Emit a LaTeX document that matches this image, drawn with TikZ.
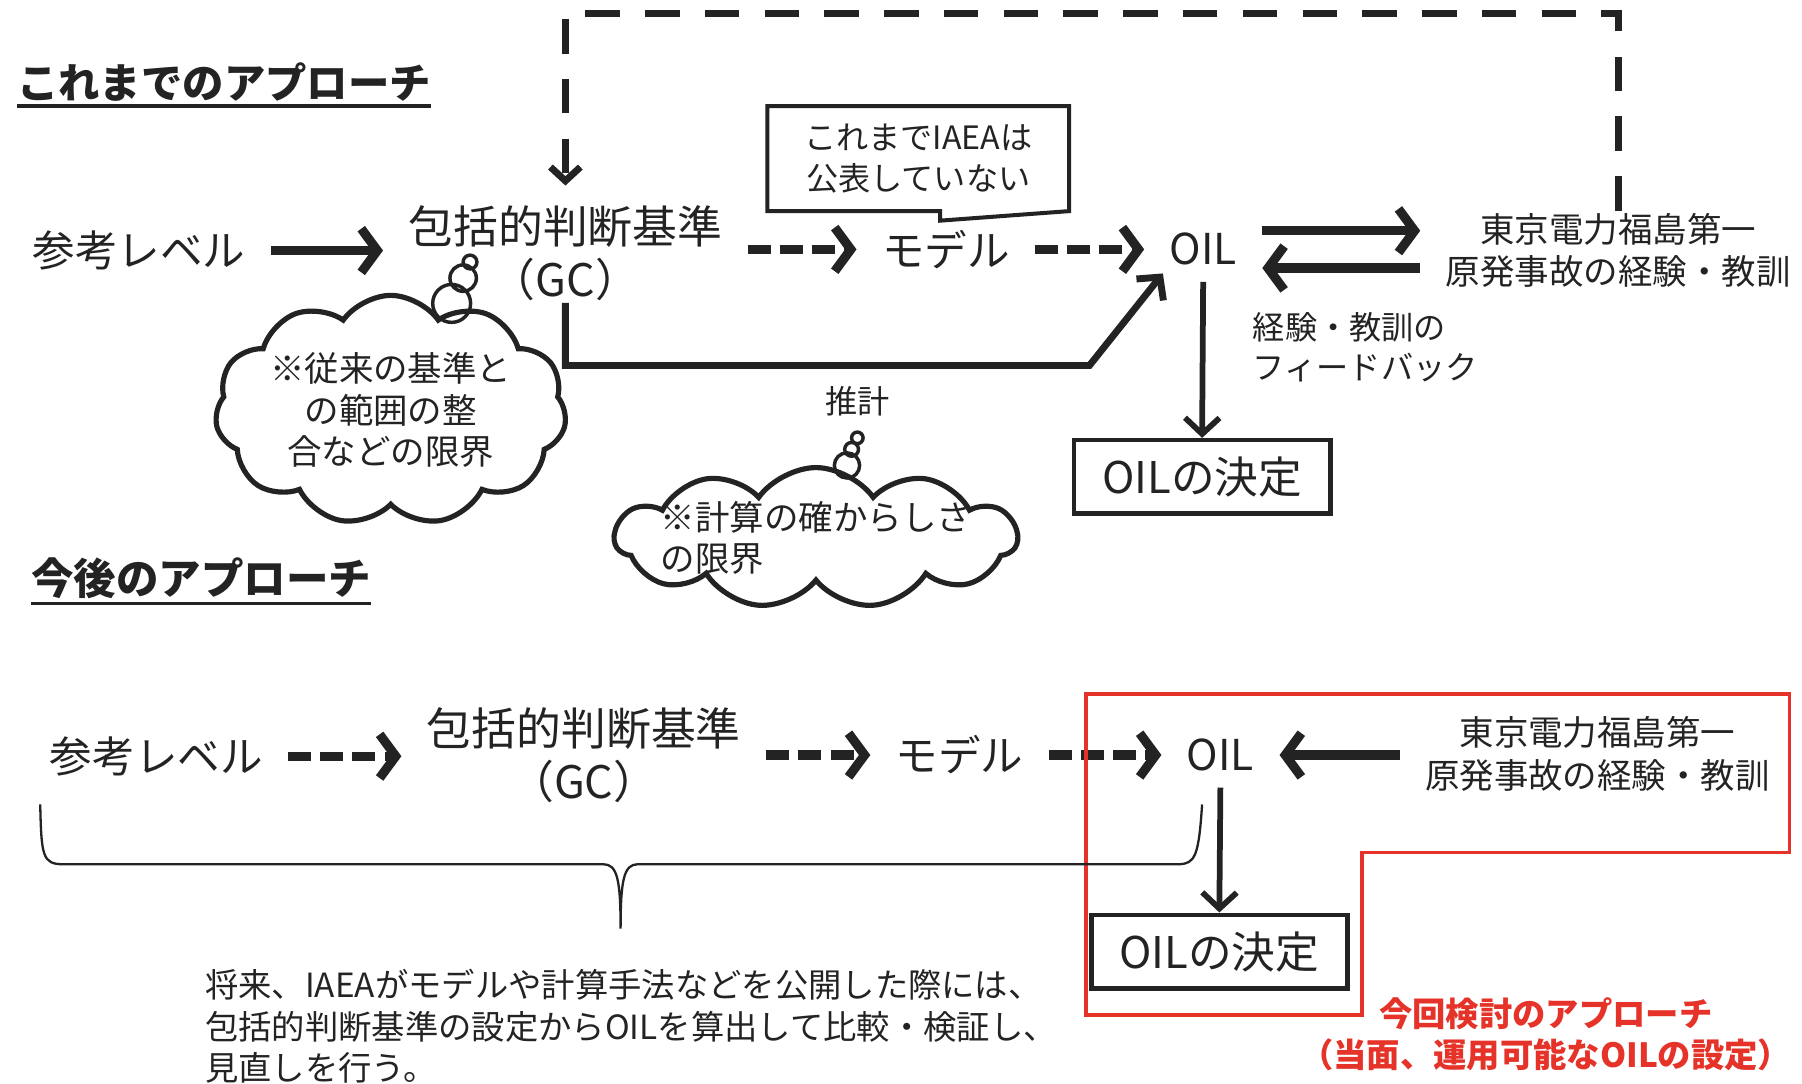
\documentclass[tikz,border=0pt]{standalone}
\usepackage{fontspec}
\setmainfont{Noto Sans CJK JP}
\usepackage{xcolor}
\usetikzlibrary{arrows.meta}
\usetikzlibrary{shapes.symbols}
\definecolor{ink}{HTML}{232323}
\definecolor{redmark}{HTML}{E63329}

\tikzset{
  lbl/.style={text=ink, inner sep=2pt, align=center, font=\fontsize{37}{46}\selectfont},
  smalllbl/.style={lbl, font=\fontsize{28}{35}\selectfont},
  heading/.style={text=ink, inner xsep=0pt, inner ysep=4pt, font=\bfseries\fontsize{36}{44}\selectfont},
  decbox/.style={draw=ink, line width=4pt, text=ink, font=\fontsize{38}{46}\selectfont, minimum width=223pt, minimum height=64pt},
  bigarrow/.style={draw=ink, line width=8pt, -{Straight Barb[length=14pt,width=38pt]}, shorten <=20pt, shorten >=20pt},
  dasharrow/.style={bigarrow, dash pattern=on 20pt off 8pt},
  downarrow/.style={draw=ink, line width=5pt, -{Straight Barb[length=14pt,width=30pt]}, shorten <=12pt},
  estline/.style={draw=ink, line width=6pt, -{Straight Barb[length=14pt,width=30pt]}, shorten >=6pt},
  loopline/.style={draw=ink, line width=6pt, dash pattern=on 30pt off 22pt, -{Straight Barb[length=12pt,width=26pt]}, shorten >=15pt},
  thought/.style={cloud, draw=ink, line width=4.5pt, text=ink, align=center, cloud puffs=11, cloud puff arc=110, cloud ignores aspect, inner sep=0pt, font=\fontsize{30}{36}\selectfont},
  bubble/.style={draw=ink, line width=3pt},
  speech/.style={text=ink, align=center, font=\fontsize{28}{35}\selectfont, minimum width=262pt, minimum height=91pt},
  speechline/.style={draw=ink, line width=3.5pt, line join=miter}
}

\begin{document}
\begin{tikzpicture}[x=1pt, y=-1pt]
	\useasboundingbox (0,0) rectangle (1568,943);
	\node[heading] (head1) at (195,71) {これまでのアプローチ};
	\draw[ink, line width=3pt] (head1.south west) -- (head1.south east);
	\node[heading, font=\bfseries\fontsize{37}{44}\selectfont] (head2) at (175,503) {今後のアプローチ};
	\draw[ink, line width=3pt] (head2.south west) -- (head2.south east);

	\node[lbl] (ref1) at (121,218) {参考レベル};
	\node[lbl, font=\fontsize{39}{46}\selectfont] (gc1) at (492,220) {包括的判断基準\\（GC）};
	\node[lbl] (model1) at (823,217) {モデル};
	\node[lbl] (oil1) at (1047,217) {OIL};
	\node[lbl, font=\fontsize{30}{37}\selectfont] (tepco1) at (1408,218) {東京電力福島第一\\原発事故の経験・教訓};
	\node[decbox] (dec1) at (1046,415) {OILの決定};
	\node[smalllbl, anchor=west, align=left] (fb) at (1088,302) {経験・教訓の\\フィードバック};
	\node[smalllbl] (est) at (746,349) {推計};

	\node[speech] (iaea) at (799,138) {これまでIAEAは\\公表していない};
	\coordinate (iaeatip) at (818,192);
	\draw[speechline] (iaea.south east) -- (iaea.north east) -- (iaea.north west) -- (iaea.south west) -- (iaea.south west -| iaeatip) -- (iaeatip) -- cycle;

	\node[thought, minimum width=290pt, minimum height=200pt] (limit1) at (340,357) {※従来の基準と\\の範囲の整\\合などの限界};
	\draw[bubble] (393,264) circle (16.5) (403,242) circle (11.5) (409,228) circle (6);
	\node[thought, align=left, inner xsep=-10pt, inner ysep=-6pt, minimum width=340pt, minimum height=117pt] (limit2) at (710,468) {※計算の確からしさ\\の限界};
	\draw[bubble] (737,405) circle (11) (741,391) circle (6) (746,381) circle (5);

	\draw[bigarrow] (ref1.east) -- (ref1.east -| gc1.west);
	\draw[dasharrow] (gc1.east |- model1.west) -- (model1.west);
	\draw[dasharrow] (model1.east) -- (oil1.west);
	\draw[bigarrow] (oil1.north east) -- (oil1.north east -| tepco1.west);
	\draw[bigarrow] (oil1.south east -| tepco1.west) -- (oil1.south east);
	\draw[downarrow] (oil1.south) -- (dec1.north);
	\coordinate (estbend) at (948,318);
	\draw[estline] (gc1.south) |- (estbend) -- (oil1.south west);
	\coordinate (looptop) at (950,12);
	\draw[loopline] (tepco1.north) |- (looptop) -| (gc1.north);

	\node[lbl] (ref2) at (136,658) {参考レベル};
	\node[lbl, font=\fontsize{39}{46}\selectfont] (gc2) at (508,657) {包括的判断基準\\（GC）};
	\node[lbl] (model2) at (835,657) {モデル};
	\node[lbl] (oil2) at (1062,657) {OIL};
	\node[lbl, font=\fontsize{30}{38}\selectfont] (tepco2) at (1390,656) {東京電力福島第一\\原発事故の経験・教訓};
	\node[decbox] (dec2) at (1061,828) {OILの決定};
	\draw[dasharrow] (ref2.east) -- (ref2.east -| gc2.west);
	\draw[dasharrow] (gc2.east |- model2.west) -- (model2.west);
	\draw[dasharrow] (model2.east) -- (oil2.west);
	\draw[bigarrow] (tepco2.west |- oil2.east) -- (oil2.east);
	\draw[downarrow] (oil2.south) -- (dec2.north);

	\draw[redmark, line width=3pt] (945,604) -- (1557,604) -- (1557,742) -- (1185,742) -- (1185,883) -- (945,883) -- cycle;
	\node[text=redmark, font=\bfseries\fontsize{29}{36}\selectfont, align=center] (thisplan) at (1345,900) {今回検討のアプローチ\\（当面、運用可能なOILの設定）};

	\draw[ink, line width=2pt] (35,700) .. controls (36,745) and (37,752) .. (55,752) -- (525,752) .. controls (537,752) and (540,765) .. (540,808) .. controls (540,765) and (543,752) .. (555,752) -- (1025,752) .. controls (1040,752) and (1043,745) .. (1046,700);
	\node[text=ink, font=\fontsize{29}{36}\selectfont, align=left, anchor=west] (note) at (175,893) {将来、IAEAがモデルや計算手法などを公開した際には、\\包括的判断基準の設定からOILを算出して比較・検証し、\\見直しを行う。};
\end{tikzpicture}
\end{document}
